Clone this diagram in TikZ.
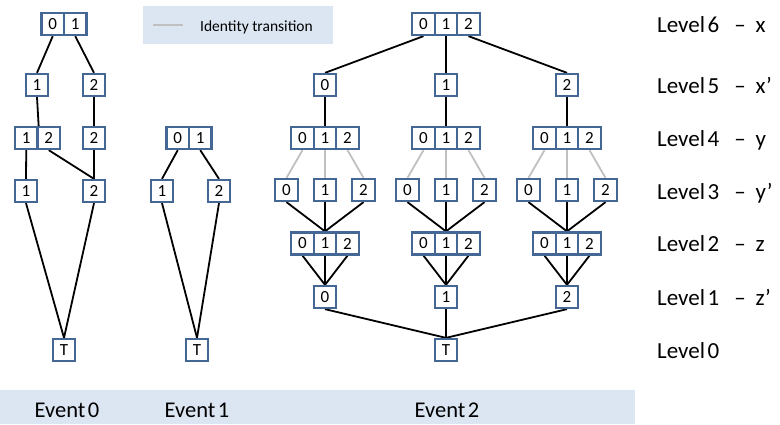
\documentclass[tikz,border=0pt]{standalone}
\usepackage{fontspec}
\setmainfont{Carlito}
\usetikzlibrary{backgrounds}
\definecolor{cellblue}{RGB}{68,103,150}
\definecolor{paleblue}{RGB}{220,230,242}
\definecolor{idgrey}{RGB}{192,192,192}
\newcommand{\lvltext}[2]{Level\hspace{2.5pt}#1\hspace{15pt}–\hspace{10pt}#2}
\begin{document}
\begin{tikzpicture}[x=1pt,y=-1pt,
  cell/.style={draw=cellblue, line width=2.3pt, fill=white, minimum width=22.5pt,
    minimum height=22pt, inner sep=0pt, font=\fontsize{17}{19}\selectfont},
  link/.style={line width=1.8pt, black},
  idlink/.style={line width=1.8pt, idgrey},
  lvl/.style={anchor=base west, inner sep=0pt, font=\fontsize{23}{27}\selectfont},
  evt/.style={anchor=base, inner sep=0pt, font=\fontsize{22.5}{26}\selectfont}]
\useasboundingbox (0,0) rectangle (780,424);

% legend
\fill[paleblue] (143,6) rectangle (333,44);
\coordinate (legA) at (153,25);
\coordinate (legB) at (183,25);
\draw[idlink] (legA) -- (legB);
\node[anchor=base west, inner sep=0pt, font=\fontsize{15.5}{18}\selectfont] (legtxt) at (200,31) {Identity transition};

% event bar
\fill[paleblue] (0,390) rectangle (635,424);
\node[evt] (ev0) at (67,417) {Event\hspace{2.5pt}0};
\node[evt] (ev1) at (197,417) {Event\hspace{2.5pt}1};
\node[evt] (ev2) at (447,417) {Event\hspace{2.5pt}2};

% level labels
\node[lvl] (lv6) at (657,32) {\lvltext{6}{x}};
\node[lvl] (lv5) at (657,93) {\lvltext{5}{x’}};
\node[lvl] (lv4) at (657,146) {\lvltext{4}{y}};
\node[lvl] (lv3) at (657,199) {\lvltext{3}{y’}};
\node[lvl] (lv2) at (657,251.5) {\lvltext{2}{z}};
\node[lvl] (lv1) at (657,305) {\lvltext{1}{z’}};
\node[lvl] (lv0) at (657,358) {Level\hspace{2.5pt}0};

% ---- event 0 ----
\node[cell] (e0a0) at (52.75,24) {0};
\node[cell] (e0a1) at (75.25,24) {1};
\node[cell] (e0b1) at (37,85) {1};
\node[cell] (e0b2) at (94,85) {2};
\node[cell] (e0c1) at (26.25,138) {1};
\node[cell] (e0c2) at (48.75,138) {2};
\node[cell] (e0d2) at (94,138) {2};
\node[cell] (e0e1) at (26,191) {1};
\node[cell] (e0e2) at (94,191) {2};
\node[cell] (e0t) at (64,350) {T};

% ---- event 1 ----
\node[cell] (e1c0) at (177.75,138) {0};
\node[cell] (e1c1) at (200.25,138) {1};
\node[cell] (e1e1) at (162,191) {1};
\node[cell] (e1e2) at (219,191) {2};
\node[cell] (e1t) at (197,350) {T};

% ---- event 2 ----
\foreach \k in {0,1,2} {
  \node[cell] (e2a\k) at ({446+22.5*(\k-1)},24) {\k};
}
\node[cell] (e2t) at (446,350) {T};
\foreach \g in {0,1,2} {
  \pgfmathsetmacro\xc{325+121*\g}
  \node[cell] (g\g b) at (\xc,85) {\g};
  \node[cell] (g\g h) at (\xc,297) {\g};
  \foreach \k in {0,1,2} {
    \node[cell] (g\g c\k) at ({\xc+22.5*(\k-1)},138) {\k};
    \node[cell] (g\g e\k) at ({\xc+38.5*(\k-1)},190) {\k};
    \node[cell] (g\g f\k) at ({\xc+22.5*(\k-1)},243.5) {\k};
  }
}

\begin{scope}[on background layer]
  % event 0
  \draw[link] (e0a0.south) -- (e0b1.north);
  \draw[link] (e0a1.south) -- (e0b2.north);
  \draw[link] (e0b1.south) -- (e0c1.north east);
  \draw[link] (e0b2.south) -- (e0d2.north);
  \draw[link] (e0c1.south) -- (e0e1.north);
  \draw[link] (e0c2.south) -- (e0e2.north);
  \draw[link] (e0d2.south) -- (e0e2.north);
  \draw[link] (e0e1.south) -- (e0t.north);
  \draw[link] (e0e2.south) -- (e0t.north);
  % event 1
  \draw[link] (e1c0.south) -- (e1e1.north);
  \draw[link] (e1c1.south) -- (e1e2.north);
  \draw[link] (e1e1.south) -- (e1t.north);
  \draw[link] (e1e2.south) -- (e1t.north);
  % event 2
  \foreach \g in {0,1,2} {
    \draw[link] (e2a\g.south) -- (g\g b.north);
    \draw[link] (g\g b.south) -- (g\g c1.north);
    \draw[link] (g\g h.south) -- (e2t.north);
    \foreach \k in {0,1,2} {
      \draw[idlink] (g\g c\k.south) -- (g\g e\k.north);
      \draw[link] (g\g e\k.south) -- (g\g f1.north);
      \draw[link] (g\g f\k.south) -- (g\g h.north);
    }
  }
\end{scope}
\end{tikzpicture}
\end{document}
